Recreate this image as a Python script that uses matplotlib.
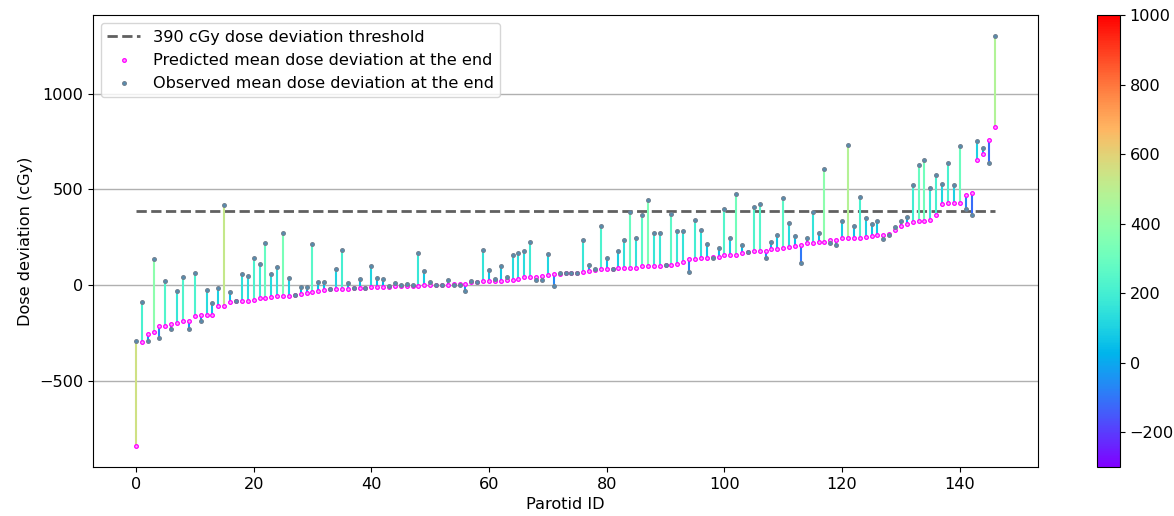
import numpy as np
import matplotlib
matplotlib.use('Agg')
import matplotlib.pyplot as plt
from matplotlib.colors import Normalize

# Predicted and observed mean dose deviation per parotid (cGy), sorted by prediction
predicted = [
    -842, -295, -255, -243, -214, -212, -200, -196, -187, -186,
    -160, -156, -155, -153, -111, -108, -87, -84, -83, -81,
    -78, -69, -66, -63, -57, -56, -55, -49, -45, -43,
    -33, -28, -26, -22, -21, -19, -18, -16, -15, -12,
    -10, -9, -8, -7, -6, -5, -3, -2, -2, 0,
    0, 2, 3, 3, 4, 5, 9, 18, 19, 21,
    21, 22, 23, 26, 29, 30, 42, 42, 45, 46,
    54, 57, 61, 62, 62, 64, 69, 76, 80, 85,
    85, 86, 89, 89, 90, 92, 101, 102, 102, 103,
    105, 108, 113, 123, 135, 139, 142, 144, 145, 149,
    156, 156, 158, 167, 172, 179, 179, 180, 189, 190,
    194, 201, 207, 208, 220, 221, 226, 227, 234, 235,
    245, 247, 248, 249, 252, 259, 262, 264, 266, 286,
    310, 318, 330, 337, 338, 339, 365, 422, 427, 428,
    428, 470, 484, 654, 685, 760, 828,
]
observed = [
    -290, -87, -292, 139, -274, 24, -227, -30, 43, -227,
    62, -187, -24, -94, -14, 418, -33, -83, 59, 49,
    144, 109, 222, 61, 94, 274, 40, -49, -10, -7,
    217, 17, 17, -21, 85, 184, 14, -16, 35, -12,
    101, 38, 30, -2, 10, 3, 7, 0, 168, 76,
    17, 3, 3, 26, 3, 3, -30, 21, 17, 182,
    78, 31, 99, 43, 158, 170, 177, 226, 28, 28,
    161, -5, 62, 62, 62, 64, 238, 104, 85, 307,
    141, 85, 179, 238, 382, 248, 366, 446, 272, 272,
    106, 371, 285, 281, 68, 340, 288, 214, 144, 194,
    396, 245, 474, 208, 172, 410, 422, 142, 227, 264,
    457, 324, 255, 116, 248, 380, 272, 608, 222, 208,
    336, 731, 307, 462, 351, 320, 338, 243, 264, 304,
    338, 356, 526, 630, 656, 508, 576, 529, 638, 526,
    729, 399, 368, 755, 719, 638, 1304,
]
threshold = 390

plt.rcParams['font.size'] = 11.6

pred = np.array(predicted)
obs = np.array(observed)
ids = np.arange(len(pred))
diff = obs - pred

cmap = plt.get_cmap('rainbow')
norm = Normalize(vmin=-300, vmax=1000)

fig = plt.figure(figsize=(11.74, 5.16), dpi=100)
ax = fig.add_axes([0.0792, 0.0950, 0.8050, 0.8759])
cax = fig.add_axes([0.9344, 0.0950, 0.0196, 0.8759])

ax.yaxis.grid(True, color='#b0b0b0', linewidth=1)
ax.set_axisbelow(True)

ax.hlines(threshold, ids[0], ids[-1], colors='#606060', linestyles='dashed',
          linewidth=2, label='390 cGy dose deviation threshold', zorder=2)
ax.vlines(ids, pred, obs, colors=cmap(norm(diff)), linewidth=1.5, zorder=3)
ax.scatter(ids, pred, s=7, facecolors='#ff9cff', edgecolors='magenta',
           linewidths=0.9, label='Predicted mean dose deviation at the end', zorder=4)
ax.scatter(ids, obs, s=7, facecolors='#4f8fb8', edgecolors='#708090',
           linewidths=0.9, label='Observed mean dose deviation at the end', zorder=4)

ax.set_xlabel('Parotid ID')
ax.set_ylabel('Dose deviation (cGy)')
ax.legend(loc='upper left')

sm = plt.cm.ScalarMappable(cmap=cmap, norm=norm)
fig.colorbar(sm, cax=cax)

fig.savefig('out.png', dpi=100)
